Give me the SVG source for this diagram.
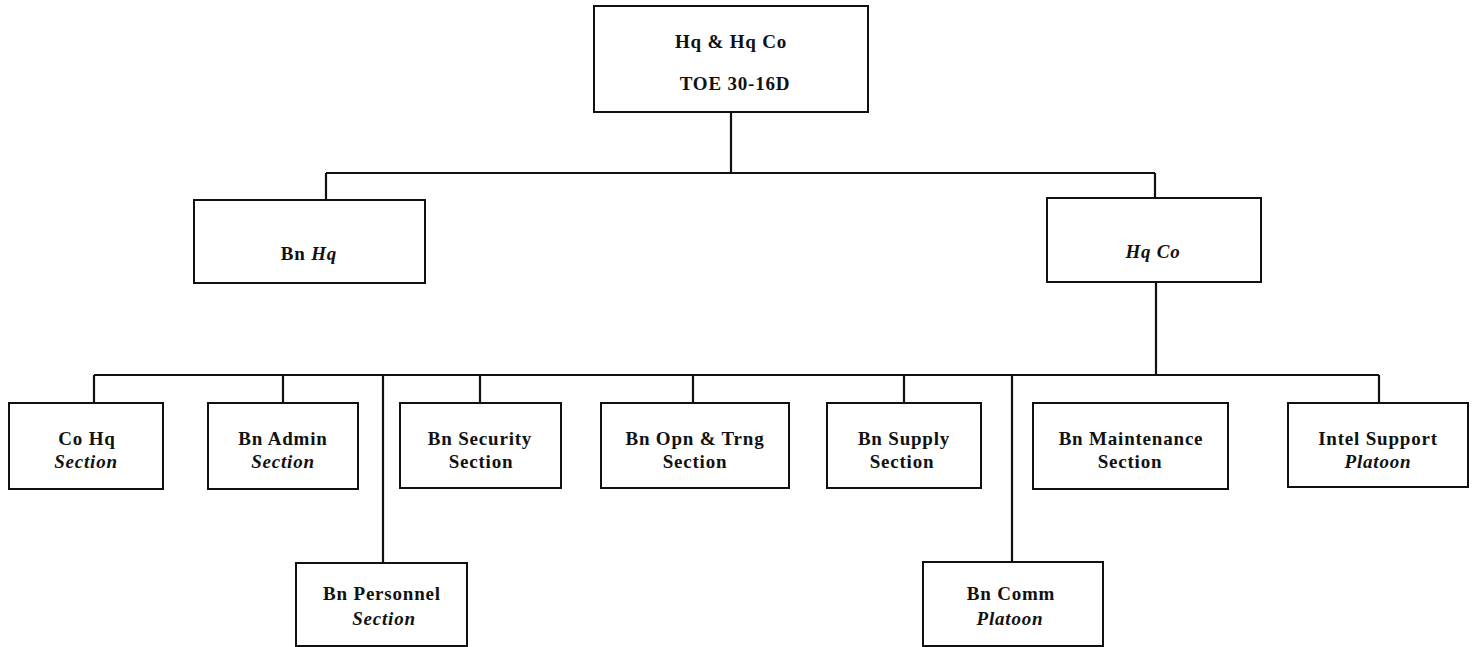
<svg xmlns="http://www.w3.org/2000/svg" width="1472" height="647" viewBox="0 0 1472 647">
<style>
.box{fill:#fff;stroke:#111;stroke-width:2}
.ln{fill:none;stroke:#111;stroke-width:2.2}
text{font-family:"Liberation Serif","DejaVu Serif",serif;font-size:19px;font-weight:bold;fill:#111;text-anchor:middle;letter-spacing:0.8px}
.i{font-style:italic}
</style>
<rect width="1472" height="647" fill="#fff"/>
<g id="connectors">
<path class="ln" d="M731 112V173M326 173H1155M326 173V200M1155 173V198"/>
<path class="ln" d="M1156 282V375M94 375H1379"/>
<path class="ln" d="M94 375V403M283 375V403M383 375V563M480 375V403M693 375V403M904 375V403M1012 375V562M1379 375V403"/>
</g>
<g id="top"><rect class="box" x="594" y="6" width="274" height="106"/><text x="731" y="48">Hq &amp; Hq Co</text><text x="735" y="90">TOE 30-16D</text></g>
<g id="bnhq"><rect class="box" x="194" y="200" width="231" height="83"/><text x="309" y="260">Bn <tspan class="i">Hq</tspan></text></g>
<g id="hqco"><rect class="box" x="1047" y="198" width="214" height="84"/><text class="i" x="1153" y="258">Hq Co</text></g>
<g id="cohq"><rect class="box" x="9" y="403" width="154" height="86"/><text x="87" y="445">Co Hq</text><text class="i" x="86" y="468">Section</text></g>
<g id="admin"><rect class="box" x="208" y="403" width="150" height="86"/><text x="283" y="445">Bn Admin</text><text class="i" x="283" y="468">Section</text></g>
<g id="security"><rect class="box" x="400" y="403" width="161" height="85"/><text x="480" y="445">Bn Security</text><text x="481" y="468">Section</text></g>
<g id="opn"><rect class="box" x="601" y="403" width="188" height="85"/><text x="695" y="445">Bn Opn &amp; Trng</text><text x="695" y="468">Section</text></g>
<g id="supply"><rect class="box" x="827" y="403" width="154" height="85"/><text x="904" y="445">Bn Supply</text><text x="902" y="468">Section</text></g>
<g id="maint"><rect class="box" x="1033" y="403" width="195" height="86"/><text x="1131" y="445">Bn Maintenance</text><text x="1130" y="468">Section</text></g>
<g id="intel"><rect class="box" x="1288" y="403" width="180" height="84"/><text x="1378" y="445">Intel Support</text><text class="i" x="1378" y="468">Platoon</text></g>
<g id="personnel"><rect class="box" x="296" y="563" width="171" height="83"/><text x="382" y="600">Bn Personnel</text><text class="i" x="384" y="625">Section</text></g>
<g id="comm"><rect class="box" x="923" y="562" width="180" height="84"/><text x="1011" y="600">Bn Comm</text><text class="i" x="1010" y="625">Platoon</text></g>
</svg>
